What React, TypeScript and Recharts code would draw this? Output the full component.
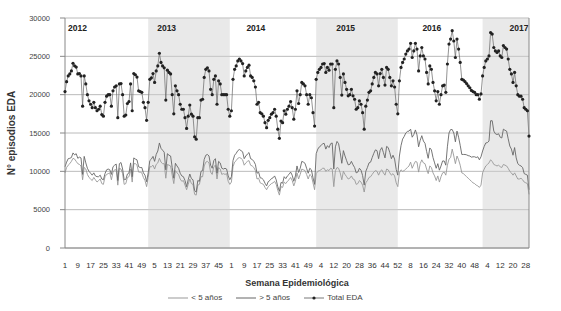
import React from 'react';
import { ComposedChart, Line, XAxis, YAxis, CartesianGrid, ReferenceArea, Legend } from 'recharts';

const years = ['2012', '2013', '2014', '2015', '2016', '2017'];
const shadedYears = ['2013', '2015', '2017'];

const total2012 = [20400, 21700, 22450, 22700, 23100, 24100, 23760, 23600, 22700, 22750, 22450, 18500, 22450, 21400, 20000, 19200, 18750, 18300, 19000, 18300, 17900, 18100, 18500, 17400, 17200, 19000, 19800, 20000, 20000, 18500, 20500, 21000, 21150, 17000, 21400, 21450, 20000, 17200, 17350, 18850, 19100, 21400, 17900, 22750, 22600, 22300, 20500, 20400, 20300, 19000, 18300, 16650];
const total2013 = [19000, 22000, 22200, 22750, 21600, 23100, 23750, 25400, 24200, 23750, 23500, 19300, 23200, 22900, 22700, 20000, 17500, 21150, 20500, 20000, 18750, 18100, 18100, 17000, 15600, 17200, 18650, 17450, 17200, 14500, 14200, 17000, 17000, 19300, 19400, 22250, 23300, 23500, 23100, 20700, 20000, 22000, 22450, 18750, 21800, 21400, 20000, 20000, 20000, 20000, 18100, 17200];
const total2014 = [17900, 22000, 23300, 23750, 24400, 24650, 24400, 24050, 22450, 23100, 23550, 23850, 22450, 22250, 21800, 21000, 18750, 19000, 17650, 17500, 17200, 16350, 15700, 16650, 17000, 17450, 17650, 18100, 17200, 15500, 14300, 16550, 16350, 17900, 17450, 18100, 18500, 19100, 18300, 16800, 18100, 20500, 18850, 20000, 21600, 21400, 21150, 20000, 18750, 20000, 19600, 17650, 15900];
const total2015 = [22000, 22900, 23300, 23550, 24000, 24050, 22900, 23550, 23200, 24000, 24000, 18300, 23300, 24400, 24000, 22250, 19950, 22700, 21600, 20700, 19850, 20000, 20700, 19850, 19400, 18100, 18300, 19200, 18750, 17650, 15500, 18500, 19300, 20300, 20500, 21400, 22250, 22900, 22700, 21150, 22750, 23300, 22250, 21250, 23550, 23300, 22250, 21150, 21800, 21000, 18750, 17500];
const total2016 = [21800, 23550, 24200, 24650, 25300, 25700, 25950, 26700, 24850, 25700, 26700, 25950, 23100, 25050, 26150, 25050, 24650, 22900, 21400, 23750, 23300, 21600, 20500, 19200, 20400, 18750, 20000, 21150, 21250, 20300, 24000, 26600, 27250, 28350, 27000, 24850, 27250, 25950, 24200, 22000, 21900, 21700, 21450, 21150, 20900, 20550, 20400, 20300, 20000, 20000, 19400, 20100];
const total2017 = [22450, 23550, 24400, 24650, 25050, 28100, 27900, 26150, 25700, 25500, 25700, 25050, 24850, 26400, 26150, 25950, 24650, 23300, 22700, 21600, 22900, 21150, 20000, 19800, 19800, 19400, 18300, 18100, 17900, 14600];

const under2012 = [9800, 10500, 10800, 11000, 11300, 11700, 11600, 11300, 11000, 10900, 10700, 8900, 10500, 10300, 9600, 9200, 9000, 8800, 9200, 8900, 8600, 8800, 9000, 8400, 8300, 9300, 9600, 9700, 9800, 8900, 9900, 10200, 10200, 8200, 10400, 10300, 9700, 8300, 8400, 9200, 9300, 10300, 8600, 11000, 11000, 10800, 9900, 9900, 9800, 9200, 8800, 8000];
const under2013 = [9200, 10600, 10600, 10800, 10300, 10900, 11100, 11700, 11200, 11000, 11000, 9100, 10900, 10800, 10700, 9500, 8400, 10100, 9800, 9600, 9000, 8700, 8800, 8200, 7600, 8300, 9000, 8400, 8300, 7000, 6900, 8200, 8300, 9300, 9300, 10700, 11200, 11300, 11100, 9900, 9600, 10600, 10800, 9000, 10500, 10300, 9600, 9700, 9600, 9700, 8700, 8300];
const under2014 = [8600, 10600, 11200, 11400, 11700, 11800, 11700, 11500, 10800, 11100, 11300, 11400, 10800, 10700, 10500, 10100, 9000, 9100, 8500, 8400, 8300, 7900, 7600, 8000, 8200, 8400, 8500, 8700, 8300, 7500, 6900, 8000, 7900, 8600, 8400, 8700, 8900, 9200, 8800, 8100, 8700, 9800, 9000, 9600, 10300, 10200, 10100, 9600, 9000, 9600, 9400, 8500, 7600];
const under2015 = [9700, 10000, 10100, 10200, 10400, 10400, 10000, 10200, 10100, 10400, 10300, 8000, 10100, 10500, 10400, 9800, 8900, 10000, 9600, 9300, 9000, 9100, 9400, 9000, 8900, 8300, 8400, 8800, 8600, 8200, 7300, 8500, 8800, 9200, 9300, 9600, 9900, 10100, 10000, 9500, 10000, 10200, 9800, 9500, 10300, 10200, 9800, 9500, 9700, 9400, 8500, 8000];
const under2016 = [9800, 10200, 10000, 10100, 10300, 10500, 10700, 11200, 10400, 10900, 11300, 11200, 9900, 11000, 11500, 11100, 11000, 10300, 9700, 10700, 10500, 9800, 9400, 8800, 9400, 8600, 9300, 9800, 9900, 9500, 10800, 11600, 11800, 12900, 12000, 11000, 12000, 11500, 10800, 9800, 9700, 9500, 9300, 9100, 8900, 8700, 8500, 8400, 8200, 8100, 7900, 8200];
const under2017 = [9800, 10300, 10700, 10900, 11100, 11500, 11300, 10900, 10800, 10700, 10800, 10600, 10500, 10900, 10800, 10700, 10400, 10000, 9800, 9500, 9800, 9400, 9000, 9000, 9100, 8900, 8600, 8500, 8400, 7000];

const over2012 = [10600, 11200, 11650, 11700, 11800, 12400, 12150, 12300, 11700, 11850, 11750, 9600, 11950, 11100, 10400, 10000, 9750, 9500, 9800, 9400, 9300, 9300, 9500, 9000, 8900, 9700, 10200, 10300, 10200, 9600, 10600, 10800, 10950, 8800, 11000, 11150, 10300, 8900, 8950, 9650, 9800, 11100, 9300, 11750, 11600, 11500, 10600, 10500, 10500, 9800, 9500, 8650];
const over2013 = [9800, 11400, 11600, 11950, 11300, 12200, 12650, 13700, 13000, 12750, 12500, 10200, 12300, 12100, 12000, 10500, 9100, 11050, 10700, 10400, 9750, 9400, 9300, 8800, 8000, 8900, 9650, 9050, 8900, 7500, 7300, 8800, 8700, 10000, 10100, 11550, 12100, 12200, 12000, 10800, 10400, 11400, 11650, 9750, 11300, 11100, 10400, 10300, 10400, 10300, 9400, 8900];
const over2014 = [9300, 11400, 12100, 12350, 12700, 12850, 12700, 12550, 11650, 12000, 12250, 12450, 11650, 11550, 11300, 10900, 9750, 9900, 9150, 9100, 8900, 8450, 8100, 8650, 8800, 9050, 9150, 9400, 8900, 8000, 7400, 8550, 8450, 9300, 9050, 9400, 9600, 9900, 9500, 8700, 9400, 10700, 9850, 10400, 11300, 11200, 11050, 10400, 9750, 10400, 10200, 9150, 8300];
const over2015 = [12300, 12900, 13200, 13350, 13600, 13650, 12900, 13350, 13100, 13600, 13700, 10300, 13200, 13900, 13600, 12450, 11050, 12700, 12000, 11400, 10850, 10900, 11300, 10850, 10500, 9800, 9900, 10400, 10150, 9450, 8200, 10000, 10500, 11100, 11200, 11800, 12350, 12800, 12700, 11650, 12750, 13100, 12450, 11750, 13250, 13100, 12450, 11650, 12100, 11600, 10250, 9500];
const over2016 = [12000, 13350, 14200, 14550, 15000, 15200, 15250, 15500, 14450, 14800, 15400, 14750, 13200, 14050, 14650, 13950, 13650, 12600, 11700, 13050, 12800, 11800, 11100, 10400, 11000, 10150, 10700, 11350, 11350, 10800, 13200, 15000, 15450, 15450, 15000, 13850, 15250, 14450, 13400, 12200, 12200, 12200, 12150, 12050, 12000, 11850, 11900, 11900, 11800, 11900, 11500, 11900];
const over2017 = [12650, 13250, 13700, 13750, 13950, 16600, 16600, 15250, 14900, 14800, 14900, 14450, 14350, 15500, 15350, 15250, 14250, 13300, 12900, 12100, 13100, 11750, 11000, 10800, 10700, 10500, 9700, 9600, 9500, 7600];

const leftTicks = [0, 5000, 10000, 15000, 20000, 25000, 30000];
const rightTicks = [0, 0.1, 0.2, 0.3, 0.4, 0.5, 0.6, 0.7, 0.8, 0.9, 1];

const totals = [total2012, total2013, total2014, total2015, total2016, total2017];
const unders = [under2012, under2013, under2014, under2015, under2016, under2017];
const overs = [over2012, over2013, over2014, over2015, over2016, over2017];

const data = years.flatMap((y, yi) =>
  totals[yi].map((t, wi) => ({
    key: `${y}-${wi + 1}`,
    total: t,
    under5: unders[yi][wi],
    over5: overs[yi][wi],
  }))
);

const FONT = '"Liberation Sans", Arial, sans-serif';
const yearLabelDx = [3, 9, 15, 20, 23, 27];

const LegendContent = () => (
  <div style={{ display: 'flex', justifyContent: 'center', alignItems: 'center', fontFamily: FONT, fontSize: 8, color: '#444', gap: 14, paddingRight: 30 }}>
    <span style={{ display: 'flex', alignItems: 'center', gap: 3 }}>
      <svg width={20} height={6}><line x1={0} y1={3} x2={20} y2={3} stroke="#999" strokeWidth={1} /></svg>
      &lt; 5 años
    </span>
    <span style={{ display: 'flex', alignItems: 'center', gap: 3 }}>
      <svg width={20} height={6}><line x1={0} y1={3} x2={20} y2={3} stroke="#666" strokeWidth={1} /></svg>
      &gt; 5 años
    </span>
    <span style={{ display: 'flex', alignItems: 'center', gap: 3 }}>
      <svg width={20} height={6}><line x1={0} y1={3} x2={20} y2={3} stroke="#555" strokeWidth={0.8} /><circle cx={10} cy={3} r={1.6} fill="#222" /></svg>
      Total EDA
    </span>
  </div>
);

export default function App() {
  return (
    <div style={{ position: 'absolute', left: 0, top: 0, width: 561, height: 311, background: '#fff' }}>
      <ComposedChart width={561} height={311} data={data} margin={{ top: 18, right: 0, bottom: 0, left: 0 }}>
        {years.map((y, yi) => (
          <ReferenceArea
            key={y}
            yAxisId="left"
            x1={`${y}-1`}
            x2={`${y}-${totals[yi].length}`}
            fill={shadedYears.includes(y) ? '#cfcfcf' : 'none'}
            fillOpacity={shadedYears.includes(y) ? 0.45 : 0}
            stroke="none"
            ifOverflow="visible"
            label={(p: any) => (
              <text x={p.viewBox.x + yearLabelDx[yi]} y={p.viewBox.y + 13} fontFamily={FONT} fontSize={8.5} fontWeight="bold" fill="#222">{y}</text>
            )}
          />
        ))}
        <CartesianGrid yAxisId="left" vertical={false} stroke="#a8a8a8" strokeWidth={0.8} />
        <XAxis
          dataKey="key"
          interval={7}
          tickFormatter={(v: string) => v.split('-')[1]}
          tickLine={false}
          tickSize={6}
          tickMargin={8}
          height={45}
          axisLine={{ stroke: '#888' }}
          tick={{ fontSize: 8, fill: '#333', fontFamily: FONT }}
          label={(p: any) => (
            <text x={p.viewBox.x + p.viewBox.width / 2} y={p.viewBox.y + 38} textAnchor="middle" fontFamily={FONT} fontSize={9} fontWeight="bold" fill="#333">Semana Epidemiológica</text>
          )}
        />
        <YAxis
          yAxisId="left"
          width={65}
          domain={[0, 30000]}
          ticks={leftTicks}
          interval={0}
          tickSize={5}
          tickMargin={10}
          axisLine={{ stroke: '#888' }}
          tickLine={{ stroke: '#888' }}
          tick={{ fontSize: 7.5, fill: '#444', fontFamily: FONT }}
          label={(p: any) => {
            const cx = 11;
            const cy = p.viewBox.y + p.viewBox.height / 2;
            return (
              <text x={cx} y={cy} transform={`rotate(-90 ${cx} ${cy})`} textAnchor="middle" dominantBaseline="central" fontFamily={FONT} fontSize={10} fontWeight="bold" fill="#333">N° episodios EDA</text>
            );
          }}
        />
        <YAxis
          yAxisId="right"
          orientation="right"
          width={32}
          domain={[0, 1]}
          ticks={rightTicks}
          interval={0}
          tickSize={4}
          tickMargin={4}
          axisLine={{ stroke: '#888' }}
          tickLine={{ stroke: '#888' }}
          tick={{ fontSize: 8, fill: '#444', fontFamily: FONT }}
        />
        <Legend verticalAlign="bottom" height={18} content={<LegendContent />} />
        <Line yAxisId="left" type="linear" dataKey="under5" name="< 5 años" stroke="#999" strokeWidth={0.9} dot={false} isAnimationActive={false} />
        <Line yAxisId="left" type="linear" dataKey="over5" name="> 5 años" stroke="#666" strokeWidth={0.9} dot={false} isAnimationActive={false} />
        <Line yAxisId="left" type="linear" dataKey="total" name="Total EDA" stroke="#666" strokeWidth={0.7} dot={{ r: 1.6, fill: '#222', stroke: '#222', strokeWidth: 0 }} isAnimationActive={false} />
      </ComposedChart>
    </div>
  );
}
